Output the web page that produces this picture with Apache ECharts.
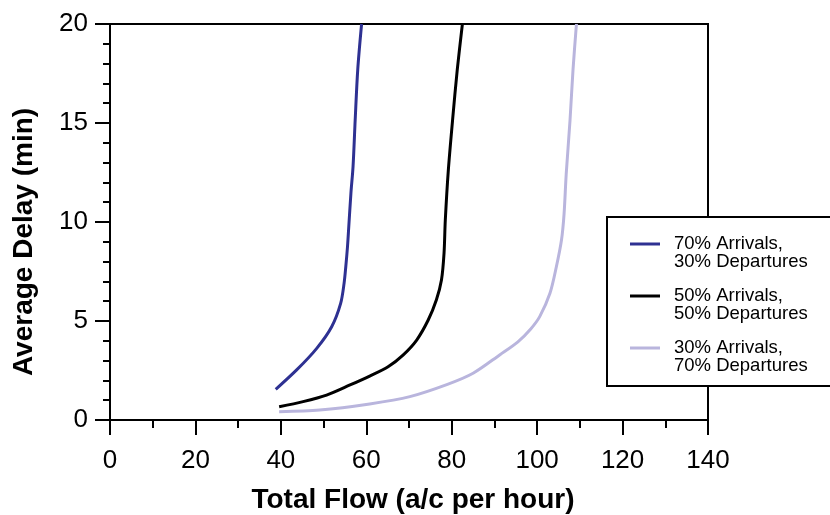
<!DOCTYPE html>
<html>
<head>
<meta charset="utf-8">
<script src="https://cdn.jsdelivr.net/npm/echarts@6/dist/echarts.min.js"></script>
<style>html,body{margin:0;padding:0;background:#fff;}#c{width:830px;height:515px;}</style>
</head>
<body>
<div id="c"></div>
<script>
const xTitle = 'Total Flow (a/c per hour)';
const yTitle = 'Average Delay (min)';
const seriesNames = ['70% Arrivals,\n30% Departures', '50% Arrivals,\n50% Departures', '30% Arrivals,\n70% Departures'];
const seriesColors = ['#2e3192', '#000000', '#b9b5dd'];

const arr70 = [[38.8,1.55],[43.7,2.53],[48.4,3.62],[51.9,4.71],[54.0,5.89],[54.8,6.9],[55.2,7.74],[55.6,8.75],[55.9,9.76],[56.4,11.45],[56.9,12.8],[57.4,15.15],[58.0,17.7],[58.9,20]];
const arr50 = [[39.6,0.67],[45.2,0.93],[50.7,1.26],[56.2,1.77],[60.8,2.22],[65.1,2.69],[68.6,3.28],[71.8,4.04],[74.5,5.05],[76.4,6.06],[77.6,7.07],[78.2,8.42],[78.5,10.1],[79.2,12.6],[80.2,15.15],[81.3,17.7],[82.5,20]];
const arr30 = [[39.6,0.42],[49.1,0.5],[60.8,0.81],[70.2,1.18],[79.0,1.8],[85.0,2.36],[91.3,3.3],[95.5,3.95],[98.5,4.6],[100.6,5.22],[103.0,6.4],[104.5,7.74],[105.7,9.09],[106.3,10.4],[106.8,12.4],[107.7,15.15],[108.4,17.7],[109.2,20]];
const seriesData = [arr70, arr50, arr30];

const FONT = "'Liberation Sans', Arial, Helvetica, sans-serif";

const chart = echarts.init(document.getElementById('c'), null, {renderer: 'canvas'});
chart.setOption({
  animation: false,
  backgroundColor: '#fff',
  grid: {left: 110, right: 122, top: 24, bottom: 95, outerBoundsMode: 'none', containLabel: false,
    show: true, borderColor: '#000', borderWidth: 2, backgroundColor: 'transparent'},
  xAxis: {
    type: 'value', min: 0, max: 140, interval: 20,
    name: xTitle, nameLocation: 'middle', nameGap: 66,
    nameTextStyle: {fontFamily: FONT, fontSize: 28, fontWeight: 'bold', color: '#000', padding: [0, 0, 0, 8]},
    axisLine: {show: true, onZero: false, lineStyle: {color: '#000', width: 2}},
    axisTick: {show: true, length: 15, lineStyle: {color: '#000', width: 2}},
    minorTick: {show: true, splitNumber: 2, length: 8, lineStyle: {color: '#000', width: 2}},
    axisLabel: {fontFamily: FONT, fontSize: 26, color: '#000', margin: 28},
    splitLine: {show: false}
  },
  yAxis: {
    type: 'value', min: 0, max: 20, interval: 5,
    name: yTitle, nameLocation: 'middle', nameGap: 72,
    nameTextStyle: {fontFamily: FONT, fontSize: 28, fontWeight: 'bold', color: '#000', padding: [0, 40, 0, 0]},
    axisLine: {show: true, onZero: false, lineStyle: {color: '#000', width: 2}},
    axisTick: {show: true, length: 15, lineStyle: {color: '#000', width: 2}},
    minorTick: {show: true, splitNumber: 5, length: 7, lineStyle: {color: '#000', width: 2}},
    axisLabel: {fontFamily: FONT, fontSize: 26, color: '#000', margin: 22},
    splitLine: {show: false}
  },
  legend: {
    orient: 'vertical', left: 607, top: 217,
    data: seriesNames,
    formatter: name => '\n' + name,
    icon: 'rect', itemWidth: 30, itemHeight: 3, itemGap: -2,
    padding: [0, 40, 11, 23],
    backgroundColor: '#fff', borderColor: '#000', borderWidth: 2, borderRadius: 0,
    textStyle: {fontFamily: FONT, fontSize: 18.5, color: '#000', lineHeight: 17.5, padding: [0, 0, 0, 9]},
    z: 10
  },
  series: seriesNames.map((n, i) => ({
    name: n, type: 'line', data: seriesData[i], smooth: 0.3, showSymbol: false, symbol: 'none',
    clip: true,
    lineStyle: {color: seriesColors[i], width: 3}, itemStyle: {color: seriesColors[i]}
  }))
});
</script>
</body>
</html>
